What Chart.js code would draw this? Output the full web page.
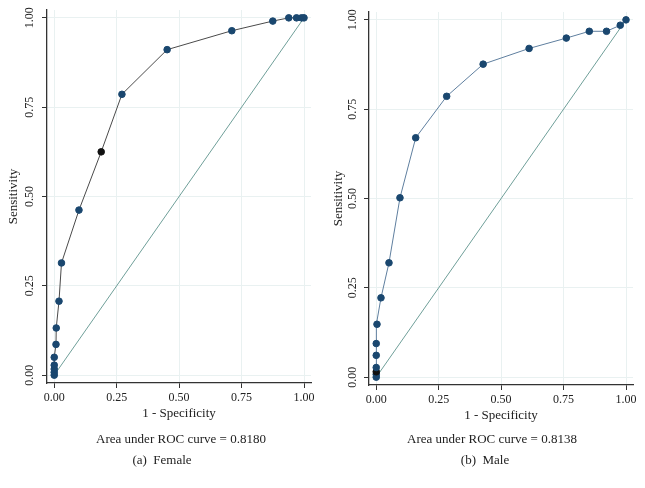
<!DOCTYPE html>
<html>
<head>
<meta charset="utf-8">
<script src="https://cdn.jsdelivr.net/npm/chart.js@4"></script>
<style>
  body { margin: 0; background: #fff; }
  #wrap { position: relative; width: 645px; height: 488px; }
  .panel { position: absolute; top: 0; height: 488px; }
</style>
</head>
<body>
<div id="wrap">
  <div class="panel" style="left:0;width:322px"><canvas id="femaleChart"></canvas></div>
  <div class="panel" style="left:322px;width:323px"><canvas id="maleChart"></canvas></div>
</div>
<script>
// ROC points (1 - specificity, sensitivity)
const femaleFpr = [0, 0, 0, 0, 0, 0.007, 0.008, 0.019, 0.029, 0.099, 0.188, 0.271, 0.452, 0.711, 0.875, 0.939, 0.97, 0.99, 1]
const femaleTpr = [0, 0.008, 0.017, 0.028, 0.05, 0.086, 0.132, 0.207, 0.314, 0.462, 0.625, 0.786, 0.911, 0.964, 0.991, 1, 1, 1, 1]
const femaleHighlight = 10

const maleFpr = [0, 0, 0, 0, 0, 0, 0.003, 0.019, 0.051, 0.095, 0.158, 0.282, 0.428, 0.612, 0.761, 0.853, 0.922, 0.977, 1]
const maleTpr = [0, 0.008, 0.015, 0.027, 0.061, 0.094, 0.148, 0.222, 0.32, 0.502, 0.67, 0.786, 0.876, 0.92, 0.949, 0.968, 0.968, 0.985, 1]
const maleHighlight = 2

const refX = [0, 1]
const refY = [0, 1]
const tickVals = [0, 0.25, 0.5, 0.75, 1]

const serif = '"Liberation Serif", "DejaVu Serif", serif'
const dotColor = '#1a476f'

const textPlugin = {
    id: 'roctext',
    afterDraw(chart, args, opts) {
        const ctx = chart.ctx
        const ys = chart.scales.y
        const ca = chart.chartArea
        ctx.save()
        ctx.fillStyle = '#222'
        ctx.textAlign = 'center'
        ctx.textBaseline = 'middle'
        ctx.font = '12px ' + serif
        ys.ticks.forEach(t => {
            ctx.save()
            ctx.translate(opts.tickX, ys.getPixelForValue(t.value))
            ctx.rotate(-Math.PI / 2)
            ctx.fillText(t.value.toFixed(2), 0, 0)
            ctx.restore()
        })
        ctx.font = '13px ' + serif
        ctx.save()
        ctx.translate(opts.titleX, (ca.top + ca.bottom) / 2)
        ctx.rotate(-Math.PI / 2)
        ctx.fillText('Sensitivity', 0, 0)
        ctx.restore()
        ctx.fillText('1 - Specificity', (ca.left + ca.right) / 2, opts.xTitleY)
        ctx.fillText(opts.auc, opts.aucX, opts.aucY)
        ctx.fillText(opts.caption, opts.capX, opts.capY)
        ctx.restore()
    }
}

function points(xs, ys) {
    return xs.map((x, i) => ({ x, y: ys[i] }))
}

function makeRoc(id, xs, ys, hi, lineColor, pad, text) {
    const colors = xs.map((x, i) => i === hi ? '#111' : dotColor)
    new Chart(document.getElementById(id), {
        type: 'scatter',
        data: {
            datasets: [{
                data: points(xs, ys),
                showLine: true,
                borderColor: lineColor,
                borderWidth: 1,
                pointBackgroundColor: colors,
                pointBorderColor: colors,
                pointRadius: 3.3,
                pointHoverRadius: 3.3
            }, {
                data: points(refX, refY),
                showLine: true,
                borderColor: '#6f9f99',
                borderWidth: 1,
                pointRadius: 0
            }]
        },
        options: {
            responsive: false,
            animation: false,
            events: [],
            layout: { padding: pad },
            plugins: { legend: { display: false }, tooltip: { enabled: false }, roctext: text },
            scales: {
                x: {
                    type: 'linear',
                    min: -0.029, max: 1.028,
                    afterBuildTicks: s => { s.ticks = tickVals.map(v => ({ value: v })) },
                    afterFit: s => { s.height = 42 },
                    grid: { color: '#e9f1f1', tickColor: '#333', tickLength: 5 },
                    border: { color: '#333', width: 1.3 },
                    ticks: { color: '#222', font: { family: serif, size: 12 }, padding: 3, callback: v => v.toFixed(2) }
                },
                y: {
                    type: 'linear',
                    min: -0.022, max: 1.022,
                    afterBuildTicks: s => { s.ticks = tickVals.map(v => ({ value: v })) },
                    afterFit: s => { s.width = 47 },
                    grid: { color: '#e9f1f1', tickColor: '#333', tickLength: 5 },
                    border: { color: '#333', width: 1.3 },
                    ticks: { display: false }
                }
            }
        },
        plugins: [textPlugin]
    })
}

document.getElementById('femaleChart').width = 322
document.getElementById('femaleChart').height = 488
document.getElementById('maleChart').width = 323
document.getElementById('maleChart').height = 488

makeRoc('femaleChart', femaleFpr, femaleTpr, femaleHighlight, '#4a4a4a',
    { top: 10, right: 11, bottom: 63, left: 0 },
    { tickX: 30, titleX: 14, xTitleY: 414, auc: 'Area under ROC curve = 0.8180', aucX: 181, aucY: 440, caption: '(a)  Female', capX: 162, capY: 461 })

makeRoc('maleChart', maleFpr, maleTpr, maleHighlight, '#5f7f9f',
    { top: 12, right: 12, bottom: 61, left: 0 },
    { tickX: 31, titleX: 17, xTitleY: 416, auc: 'Area under ROC curve = 0.8138', aucX: 170, aucY: 440, caption: '(b)  Male', capX: 163, capY: 461 })
</script>
</body>
</html>
